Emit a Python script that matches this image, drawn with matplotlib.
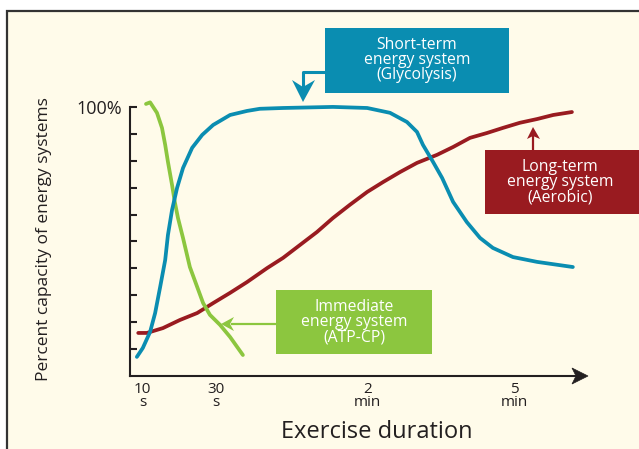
import matplotlib
matplotlib.use('Agg')
import matplotlib.pyplot as plt
from matplotlib.patches import Rectangle, Polygon

# x is a position along the (non-linear) duration axis, 0..100
tick_pos = [2.8, 18.8, 51.9, 84.0]
tick_labels = ['10\ns', '30\ns', '2\nmin', '5\nmin']

# Immediate energy system (ATP-CP), percent capacity
atp_x = [3.5, 4.4, 5.9, 7.0, 7.7, 8.3, 9.2, 9.8, 10.5, 11.6, 13.1, 14.7, 16.0,
         17.5, 19.7, 21.9, 24.7]
atp_y = [101.1, 101.7, 97.8, 92.2, 85.9, 79.6, 71.0, 64.7, 58.7, 51.3, 40.5,
         33.1, 27.1, 22.7, 19.0, 14.5, 7.8]

# Short-term energy system (Glycolysis)
gly_x = [1.5, 2.8, 4.4, 5.5, 6.6, 7.7, 8.3, 9.2, 10.3, 11.6, 13.6, 15.8, 18.2,
         21.9, 25.6, 28.4, 33.5, 44.4, 51.9, 56.9, 60.6, 62.8, 64.1, 66.3, 68.3,
         70.7, 73.7, 76.6, 79.4, 83.8, 89.1, 96.9]
gly_y = [7.1, 10.4, 16.4, 23.4, 33.1, 43.1, 52.4, 61.7, 69.9, 77.3, 84.8, 89.6,
         93.3, 97.0, 98.5, 99.3, 99.6, 100.0, 99.6, 97.8, 94.4, 90.7, 85.9, 79.6,
         73.6, 64.7, 57.2, 51.3, 47.6, 44.2, 42.4, 40.5]

# Long-term energy system (Aerobic)
aer_x = [1.8, 3.7, 7.2, 10.9, 14.7, 18.2, 21.9, 25.6, 30.0, 33.5, 37.2, 40.9,
         44.4, 48.1, 51.9, 55.4, 59.1, 62.8, 67.2, 70.7, 74.4, 78.1, 81.6, 85.3,
         89.1, 92.6, 96.7]
aer_y = [16.0, 16.0, 17.8, 20.8, 23.4, 27.1, 30.9, 34.9, 40.1, 43.9, 48.7, 53.5,
         58.7, 63.6, 68.4, 72.1, 75.8, 79.2, 82.2, 85.1, 88.5, 90.3, 92.2, 94.1,
         95.5, 97.0, 98.1]

BLUE = '#0A8DB1'
RED = '#991B20'
GREEN = '#8CC63F'
INK = '#231F20'

plt.rcParams['font.family'] = ['Open Sans', 'DejaVu Sans']

fig = plt.figure(figsize=(6.39, 4.49), dpi=100)
fig.patch.set_facecolor('white')

# background layer in pixel coordinates
bg = fig.add_axes([0, 0, 1, 1], zorder=0)
bg.set_xlim(0, 639)
bg.set_ylim(449, 0)
bg.axis('off')
bg.add_patch(Rectangle((7, 11), 700, 500, facecolor='#FFFBEA',
                       edgecolor='#333333', lw=1.6))

ax = fig.add_axes([130 / 639, 73 / 449, 457 / 639, 296 / 449], zorder=1)
ax.set_facecolor('none')
ax.set_xlim(0, 100)
ax.set_ylim(0, 110)

lw = 2.7
style = dict(lw=lw, solid_capstyle='round', solid_joinstyle='round')
ax.plot(aer_x, aer_y, color=RED, **style)
ax.plot(atp_x, atp_y, color=GREEN, **style)
ax.plot(gly_x, gly_y, color=BLUE, **style)

for s in ['top', 'right']:
    ax.spines[s].set_visible(False)
ax.spines['left'].set_bounds(0, 100)
ax.spines['bottom'].set_bounds(0, 98)
for s in ['left', 'bottom']:
    ax.spines[s].set_linewidth(1.5)
    ax.spines[s].set_color(INK)

ax.set_yticks(range(10, 101, 10))
ax.set_yticklabels([''] * 9 + ['100%'])
ax.tick_params(axis='y', direction='in', length=5, width=1.5, color=INK,
               labelsize=13, pad=6, labelcolor=INK)
ax.set_xticks(tick_pos)
ax.set_xticklabels(tick_labels, linespacing=0.85)
ax.tick_params(axis='x', length=0, labelsize=11, pad=4, labelcolor=INK)

# x-axis arrow head
bg.add_patch(Polygon([(588, 376), (572, 368), (576, 376), (572, 384)],
                     closed=True, facecolor=INK, edgecolor=INK, lw=0.5))

# axis titles
bg.text(44, 239, 'Percent capacity of energy systems', rotation=90,
        ha='center', va='center', fontsize=12.5, color=INK)
bg.text(377, 432, 'Exercise duration', ha='center', va='center',
        fontsize=17, color=INK)

# label boxes
bg.add_patch(Rectangle((325, 28), 184, 65, facecolor=BLUE, edgecolor='none'))
bg.text(417, 60, 'Short-term\nenergy system\n(Glycolysis)', ha='center',
        va='center', color='white', fontsize=11.3, linespacing=0.95)
bg.plot([325, 303, 303], [72, 72, 88], color=BLUE, lw=2.2)
bg.add_patch(Polygon([(303, 102), (292, 80), (303, 87), (315, 80)],
                     closed=True, facecolor=BLUE, edgecolor='none'))

bg.add_patch(Rectangle((485, 150), 160, 64, facecolor=RED, edgecolor='none'))
bg.text(560, 182, 'Long-term\nenergy system\n(Aerobic)', ha='center',
        va='center', color='white', fontsize=11.3, linespacing=0.95)
bg.plot([533, 533], [150, 136], color=RED, lw=1.6)
bg.add_patch(Polygon([(533, 127), (527, 139), (533, 136), (540, 139)],
                     closed=True, facecolor=RED, edgecolor='none'))

bg.add_patch(Rectangle((276, 290), 156, 64, facecolor=GREEN, edgecolor='none'))
bg.text(354, 322, 'Immediate\nenergy system\n(ATP-CP)', ha='center',
        va='center', color='white', fontsize=11.3, linespacing=0.95)
bg.plot([276, 232], [324, 324], color=GREEN, lw=1.6)
bg.add_patch(Polygon([(221, 324), (234, 317), (230, 324), (234, 331)],
                     closed=True, facecolor=GREEN, edgecolor='none'))

fig.savefig('out.png', dpi=100)
